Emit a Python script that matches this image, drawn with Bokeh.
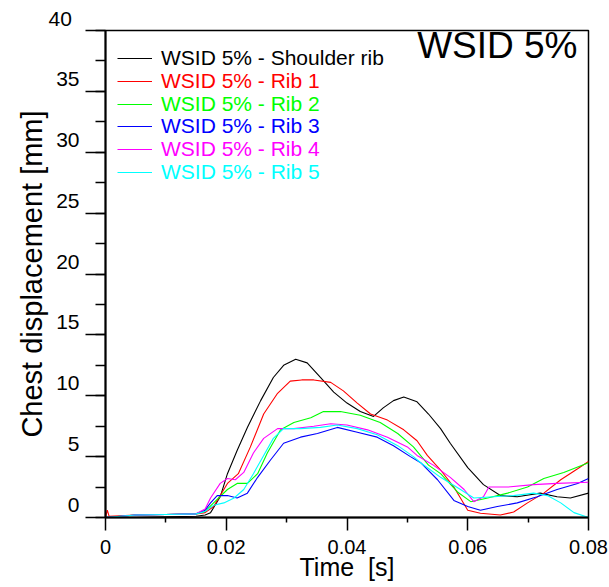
from bokeh.plotting import figure
from bokeh.models import (Range1d, SingleIntervalTicker, FixedTicker, LinearAxis, Legend,
                          LegendItem, Label, Title)
from bokeh.embed import file_html
from bokeh.resources import INLINE

# ---------------- data ----------------
t_shoulder = [0, 0.005, 0.01, 0.015, 0.0165, 0.0174, 0.019, 0.0202, 0.0218, 0.0235, 0.0257,
              0.0278, 0.0295, 0.0315, 0.0334, 0.0356, 0.0378, 0.040, 0.0422, 0.0444, 0.046,
              0.0477, 0.0494, 0.0516, 0.0535, 0.0555, 0.0571, 0.060, 0.0626, 0.0654, 0.0682,
              0.072, 0.0748, 0.077, 0.08]
v_shoulder = [0, 0, 0.05, 0.1, 0.2, 0.4, 1.7, 3.6, 5.5, 7.4, 9.6,
              11.5, 12.5, 13.0, 12.7, 11.5, 10.3, 9.4, 8.7, 8.3, 9.0,
              9.6, 9.9, 9.5, 8.5, 7.3, 6.1, 4.1, 2.7, 1.8, 1.7,
              2.0, 1.7, 1.6, 2.0]

t_rib1 = [0, 0.0003, 0.0006, 0.005, 0.01, 0.015, 0.0165, 0.0179, 0.0202, 0.022, 0.024,
          0.0262, 0.0285, 0.0306, 0.0325, 0.0345, 0.0373, 0.0394, 0.0417, 0.0439, 0.0467,
          0.0494, 0.0516, 0.0533, 0.0555, 0.0577, 0.060, 0.0621, 0.0654, 0.0676, 0.0699,
          0.0726, 0.0754, 0.0782, 0.08]
v_rib1 = [0, 0.6, 0.1, 0.2, 0.25, 0.3, 0.4, 0.9, 2.8, 3.6, 5.8,
          8.5, 10.2, 11.2, 11.3, 11.3, 11.1, 10.4, 9.4, 8.5, 8.0,
          7.2, 6.3, 5.1, 3.9, 2.5, 0.6, 0.35, 0.2, 0.45, 1.2,
          2.0, 3.1, 4.0, 4.6]

t_rib2 = [0, 0.005, 0.01, 0.015, 0.0165, 0.0179, 0.0202, 0.0218, 0.0235, 0.0252, 0.0268,
          0.029, 0.0312, 0.034, 0.0361, 0.0389, 0.0422, 0.0455, 0.0484, 0.051, 0.0535,
          0.0555, 0.0583, 0.0605, 0.0633, 0.0666, 0.0699, 0.0726, 0.0759, 0.08]
v_rib2 = [0, 0.2, 0.25, 0.3, 0.5, 1.2, 2.3, 2.8, 2.8, 3.6, 5.3,
          7.2, 7.8, 8.2, 8.7, 8.7, 8.4, 7.8, 6.9, 5.8, 4.3,
          3.6, 2.1, 1.3, 1.6, 2.0, 2.5, 3.2, 3.7, 4.5]

t_rib3 = [0, 0.005, 0.01, 0.015, 0.0165, 0.0174, 0.0185, 0.0202, 0.0218, 0.0235, 0.0252,
          0.0273, 0.0295, 0.0323, 0.0351, 0.0384, 0.0417, 0.045, 0.0477, 0.0505, 0.0522,
          0.055, 0.0577, 0.060, 0.0621, 0.0649, 0.0682, 0.0715, 0.0748, 0.0782, 0.08]
v_rib3 = [0, 0.2, 0.25, 0.3, 0.6, 1.2, 1.8, 1.8, 1.6, 2.0, 3.3,
          4.7, 6.1, 6.6, 6.9, 7.4, 7.0, 6.6, 5.9, 5.0, 4.5,
          3.1, 1.4, 0.9, 0.6, 0.9, 1.2, 1.7, 2.3, 2.8, 3.2]

t_rib4 = [0, 0.005, 0.01, 0.015, 0.0165, 0.0174, 0.019, 0.0202, 0.0215, 0.0229, 0.0245,
          0.0262, 0.0285, 0.0312, 0.0345, 0.0373, 0.040, 0.0434, 0.0467, 0.050, 0.0516,
          0.0543, 0.0571, 0.0594, 0.061, 0.0626, 0.0635, 0.0666, 0.0709, 0.0748, 0.08]
v_rib4 = [0, 0.2, 0.25, 0.3, 0.7, 1.6, 2.8, 3.2, 3.1, 3.7, 5.3,
          6.5, 7.3, 7.3, 7.5, 7.7, 7.6, 7.2, 6.6, 5.8, 5.1,
          4.3, 3.3, 2.3, 1.3, 1.7, 2.5, 2.5, 2.7, 2.8, 2.9]

t_rib5 = [0, 0.005, 0.01, 0.015, 0.0165, 0.0179, 0.0196, 0.0213, 0.0229, 0.0245, 0.0262,
          0.0278, 0.0295, 0.0323, 0.0356, 0.0384, 0.0417, 0.045, 0.0484, 0.051, 0.0522,
          0.0555, 0.0588, 0.061, 0.0643, 0.0676, 0.0709, 0.0732, 0.0754, 0.0776, 0.08]
v_rib5 = [0, 0.2, 0.25, 0.3, 0.5, 1.0, 1.2, 1.6, 2.3, 3.6, 5.1,
          6.5, 7.3, 7.3, 7.4, 7.6, 7.3, 6.8, 5.9, 5.0, 4.5,
          3.3, 2.3, 1.6, 1.7, 1.8, 2.0, 1.8, 1.2, 0.4, 0.0]

series_names = ["WSID 5% - Shoulder rib", "WSID 5% - Rib 1", "WSID 5% - Rib 2",
                "WSID 5% - Rib 3", "WSID 5% - Rib 4", "WSID 5% - Rib 5"]
series_colors = ["#000000", "#FF0000", "#00FF00", "#0000FF", "#FF00FF", "#00FFFF"]
series_t = [t_shoulder, t_rib1, t_rib2, t_rib3, t_rib4, t_rib5]
series_v = [v_shoulder, v_rib1, v_rib2, v_rib3, v_rib4, v_rib5]

y_tick_values = [0, 5, 10, 15, 20, 25, 30, 35, 40]
y_top_label = "40"
x_tick_values = [0, 0.02, 0.04, 0.06, 0.08]
x_minor_values = [0.01, 0.03, 0.05, 0.07]

title_text = "WSID 5%"
x_title = "Time\u00a0\u00a0[s]"
y_title = "Chest displacement [mm]"

FONT = "Liberation Sans"

# ---------------- layout ----------------
W, H = 609, 587
LEFT, RIGHT, TOP, BOTTOM = 105, 21, 30, 70
Y0, Y1 = 0, 40
frame_h = H - TOP - BOTTOM
px_per_unit = frame_h / (Y1 - Y0)
label_shift = 12.5 / px_per_unit          # tick labels sit ~12px above their ticks

p = figure(width=W, height=H, output_backend="svg", toolbar_location=None,
           x_range=Range1d(0, 0.08), y_range=Range1d(Y0, Y1),
           min_border_left=LEFT, min_border_right=RIGHT, min_border_top=TOP,
           min_border_bottom=BOTTOM)
p.background_fill_color = "white"
p.border_fill_color = "white"
p.xgrid.visible = False
p.ygrid.visible = False
p.outline_line_color = "black"
p.outline_line_width = 1.5

# x axis
xa = p.xaxis[0]
xa.ticker = FixedTicker(ticks=x_tick_values, minor_ticks=x_minor_values)
xa.axis_line_width = 2
xa.major_tick_out = 13
xa.major_tick_in = 0
xa.minor_tick_out = 5
xa.minor_tick_in = 0
xa.major_tick_line_width = 1.5
xa.minor_tick_line_width = 1.5
xa.major_label_text_font = FONT
xa.major_label_text_font_size = "20px"
xa.major_label_text_color = "black"
xa.major_label_standoff = 9
xa.axis_label = x_title
xa.axis_label_text_font = FONT
xa.axis_label_text_font_size = "25px"
xa.axis_label_text_font_style = "normal"
xa.axis_label_text_color = "black"
xa.axis_label_standoff = -4

# y axis: ticks only
ya = p.yaxis[0]
ya.ticker = SingleIntervalTicker(interval=5, num_minor_ticks=2)
ya.axis_line_width = 2
ya.major_tick_out = 20
ya.major_tick_in = 0
ya.minor_tick_out = 10
ya.minor_tick_in = 0
ya.major_tick_line_width = 1.5
ya.minor_tick_line_width = 1.5
ya.major_label_text_color = None
ya.major_label_text_font_size = "1px"
ya.major_label_standoff = 0

# y tick labels on a second axis whose range is shifted so the labels sit above the ticks
p.extra_y_ranges = {"labels": Range1d(Y0 - label_shift, Y1 - label_shift)}
yl = LinearAxis(y_range_name="labels", ticker=FixedTicker(ticks=y_tick_values),
                bounds=(-10, Y1 + 0.5))
yl.axis_line_color = None
yl.major_tick_line_color = None
yl.minor_tick_line_color = None
yl.major_tick_out = 0
yl.major_tick_in = 0
yl.minor_tick_out = 0
yl.minor_tick_in = 0
yl.major_label_text_font = FONT
yl.major_label_text_font_size = "21px"
yl.major_label_text_color = "black"
yl.major_label_standoff = 6
p.add_layout(yl, "left")

# y axis title, below the frame centre as in the reference
p.add_layout(Title(text=y_title, align="center", offset=-30, standoff=12,
                   text_font=FONT, text_font_size="29px", text_font_style="normal",
                   text_color="black"), "left")

# the top tick label (above the frame) as a small title
p.add_layout(Title(text=y_top_label, align="left", offset=-57, standoff=10,
                   vertical_align="bottom", text_font=FONT, text_font_size="21px",
                   text_font_style="normal", text_color="black"), "above")

# curves
renderers = []
for t, v, c in zip(series_t, series_v, series_colors):
    renderers.append(p.line(t, v, line_color=c, line_width=1.1))

# legend: one legend per entry so each text takes its series colour
for k, (name, c, r) in enumerate(zip(series_names, series_colors, renderers)):
    lg = Legend(items=[LegendItem(label=name, renderers=[r])],
                location=(12, 446 - 22.8 * k), padding=0, margin=0, spacing=0,
                glyph_width=35, glyph_height=26, label_height=26, label_standoff=9,
                label_text_font=FONT, label_text_font_size="21px", label_text_color=c,
                border_line_alpha=0, background_fill_alpha=0)
    p.add_layout(lg, "center")

# inner title
p.add_layout(Label(x=0.08, y=Y1, x_offset=-11, y_offset=-15, text=title_text,
                   text_align="right", text_baseline="alphabetic",
                   text_font=FONT, text_font_size="37px", text_color="black"))

open("out.html", "w").write(file_html(p, INLINE))
